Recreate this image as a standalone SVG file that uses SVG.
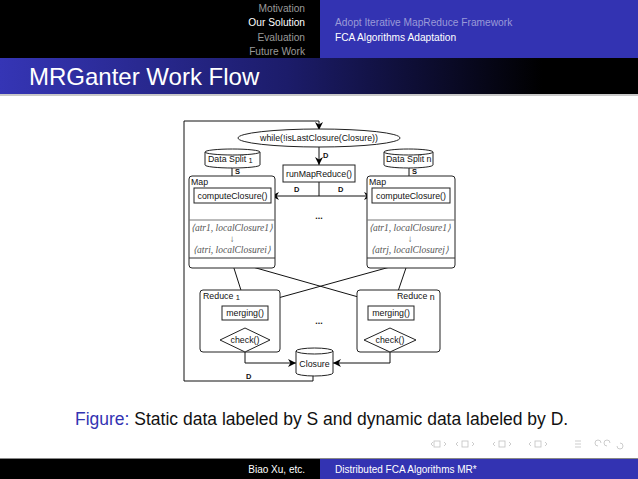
<svg xmlns="http://www.w3.org/2000/svg" width="638" height="479" viewBox="0 0 638 479">
<defs>
<linearGradient id="tg" x1="0" y1="0" x2="1" y2="0">
<stop offset="0" stop-color="#3535b5"/>
<stop offset="0.45" stop-color="#1c1c6a"/>
<stop offset="0.85" stop-color="#000000"/>
</linearGradient>
<marker id="ah" viewBox="0 0 10 10" refX="10" refY="5" markerWidth="8" markerHeight="8" markerUnits="userSpaceOnUse" orient="auto">
<path d="M0,0 L10,5 L0,10 L3,5 Z" fill="#000"/>
</marker>
<style>
.nav{font-family:"Liberation Sans",Arial,sans-serif;font-size:10.2px}
.ft{font-family:"Liberation Sans",Arial,sans-serif;font-size:10px}
.d{font-family:"Liberation Sans",Arial,sans-serif;font-size:8.8px;fill:#111}
.b{font-family:"Liberation Sans",Arial,sans-serif;font-size:7.5px;font-weight:bold;fill:#111}
.m{font-family:"Liberation Serif","Times New Roman",serif;font-size:9.5px;font-style:italic;fill:#555}
.box{fill:#fff;stroke:#222;stroke-width:1}
.ln{fill:none;stroke:#111;stroke-width:1}
.ar{fill:none;stroke:#111;stroke-width:1}
</style>
</defs>
<rect width="638" height="479" fill="#fff"/>
<!-- header -->
<rect x="0" y="0" width="320" height="58" fill="#000"/>
<rect x="320" y="0" width="318" height="58" fill="#3333b2"/>
<g class="nav" text-anchor="end">
<text x="305" y="12" fill="#9a9a9a">Motivation</text>
<text x="305" y="26" fill="#fff">Our Solution</text>
<text x="305" y="41" fill="#9a9a9a">Evaluation</text>
<text x="305" y="55" fill="#9a9a9a">Future Work</text>
</g>
<g class="nav">
<text x="335" y="26" fill="#9a9ad8">Adopt Iterative MapReduce Framework</text>
<text x="335" y="41" fill="#fff">FCA Algorithms Adaptation</text>
</g>
<rect x="0" y="58" width="638" height="36" fill="url(#tg)"/>
<rect x="0" y="94" width="638" height="2" fill="#c8c8c8"/>
<text x="29" y="85" font-family="Liberation Sans,Arial,sans-serif" font-size="24" fill="#fff">MRGanter Work Flow</text>

<!-- connectors -->
<g id="connectors">
<path class="ar" marker-end="url(#ah)" d="M313,375 V381 H184 V121 H319 V130"/>
<text class="b" x="246" y="379">D</text>
<path class="ar" marker-end="url(#ah)" d="M319,147 V165"/>
<text class="b" x="323" y="158">D</text>
<path class="ln" d="M319,182 V196"/>
<path class="ar" marker-end="url(#ah)" d="M319,196 H271"/>
<path class="ar" marker-end="url(#ah)" d="M319,196 H372"/>
<text class="b" x="294" y="192">D</text>
<text class="b" x="338" y="192">D</text>
<path class="ar" marker-end="url(#ah)" d="M232,167 V188"/>
<text class="b" x="235" y="174">S</text>
<path class="ar" marker-end="url(#ah)" d="M409,167 V188"/>
<text class="b" x="412" y="174">S</text>
<path class="ar" marker-end="url(#ah)" d="M232,203 V220"/>
<path class="ar" marker-end="url(#ah)" d="M409,203 V220"/>
<path class="ar" marker-end="url(#ah)" d="M232,262 L246,306"/>
<path class="ar" marker-end="url(#ah)" d="M235,262 L390,306"/>
<path class="ar" marker-end="url(#ah)" d="M408,262 L249,306"/>
<path class="ar" marker-end="url(#ah)" d="M408,262 L393,306"/>
<path class="ar" marker-end="url(#ah)" d="M245,320 V328"/>
<path class="ar" marker-end="url(#ah)" d="M390,320 V328"/>
<path class="ar" marker-end="url(#ah)" d="M245,352 V363 H296"/>
<path class="ar" marker-end="url(#ah)" d="M390,352 V363 H333"/>
</g>

<g id="while">
<ellipse cx="319" cy="138" rx="81" ry="9" class="box"/>
<text class="d" x="319" y="141" text-anchor="middle">while(!isLastClosure(Closure))</text>
</g>
<g id="split1">
<path class="box" d="M205,152 V165 A27.5,3 0 0 0 260,165 V152 Z"/>
<ellipse class="box" cx="232.5" cy="152" rx="27.5" ry="3"/>
<text class="d" x="208" y="162">Data Split <tspan font-size="7.5" dy="1">1</tspan></text>
</g>
<g id="splitn">
<path class="box" d="M384,152 V165 A24.5,3 0 0 0 433,165 V152 Z"/>
<ellipse class="box" cx="408.5" cy="152" rx="24.5" ry="3"/>
<text class="d" x="386" y="162">Data Split n</text>
</g>
<g id="runmr">
<rect class="box" x="283" y="165" width="72" height="17"/>
<text class="d" x="319" y="176.5" text-anchor="middle">runMapReduce()</text>
</g>
<g id="map1">
<rect class="box" x="189" y="176" width="86" height="92" rx="3"/>
<line x1="189" y1="220" x2="275" y2="220" stroke="#777"/>
<line x1="189" y1="258" x2="275" y2="258" stroke="#333"/>
<text class="d" x="191" y="185">Map</text>
<rect class="box" x="194" y="188" width="77" height="15"/>
<text class="d" x="232.5" y="198.8" text-anchor="middle">computeClosure()</text>
<text class="m" x="232" y="230.5" text-anchor="middle">⟨atr1, localClosure1⟩</text>
<text class="m" x="232" y="242" text-anchor="middle" font-style="normal" font-size="8">↓</text>
<text class="m" x="232" y="252.5" text-anchor="middle">⟨atri, localClosurei⟩</text>
</g>
<g id="mapn">
<rect class="box" x="367" y="176" width="88" height="92" rx="3"/>
<line x1="367" y1="220" x2="455" y2="220" stroke="#777"/>
<line x1="367" y1="258" x2="455" y2="258" stroke="#333"/>
<text class="d" x="369" y="185">Map</text>
<rect class="box" x="372" y="188" width="78" height="15"/>
<text class="d" x="411" y="198.8" text-anchor="middle">computeClosure()</text>
<text class="m" x="410" y="230.5" text-anchor="middle">⟨atr1, localClosure1⟩</text>
<text class="m" x="410" y="242" text-anchor="middle" font-style="normal" font-size="8">↓</text>
<text class="m" x="410" y="252.5" text-anchor="middle">⟨atrj, localClosurej⟩</text>
</g>
<text class="d" x="319" y="219" text-anchor="middle" font-weight="bold">...</text>
<g id="reduce1">
<rect class="box" x="200" y="290" width="80" height="62" rx="3"/>
<text class="d" x="203" y="299">Reduce <tspan font-size="7.5" dy="1">1</tspan></text>
<rect class="box" x="222" y="306" width="46" height="14"/>
<text class="d" x="245" y="316.3" text-anchor="middle">merging()</text>
<path class="box" d="M245,328 L270,340 L245,352 L220,340 Z"/>
<text class="d" x="245" y="343.3" text-anchor="middle">check()</text>
</g>
<g id="reducen">
<rect class="box" x="357" y="290" width="83" height="62" rx="3"/>
<text class="d" x="397" y="299">Reduce <tspan dy="1">n</tspan></text>
<rect class="box" x="368" y="306" width="46" height="14"/>
<text class="d" x="391" y="316.3" text-anchor="middle">merging()</text>
<path class="box" d="M390,328 L416,340 L390,352 L364,340 Z"/>
<text class="d" x="390" y="343.3" text-anchor="middle">check()</text>
</g>
<text class="d" x="319" y="324" text-anchor="middle" font-weight="bold">...</text>
<g id="closure">
<path class="box" d="M296,351 V373 A18.5,3 0 0 0 333,373 V351 Z"/>
<ellipse class="box" cx="314.5" cy="351" rx="18.5" ry="3"/>
<text class="d" x="314.5" y="367" text-anchor="middle">Closure</text>
</g>

<!-- caption -->
<text x="75" y="425" font-family="Liberation Sans,Arial,sans-serif" font-size="17.5" fill="#111"><tspan fill="#3333b2">Figure:</tspan> Static data labeled by S and dynamic data labeled by D.</text>

<!-- nav symbols -->
<g fill="none" stroke="#c0c0c0" stroke-width="0.8">
<rect x="434" y="441" width="6" height="6"/>
<rect x="462" y="441" width="6" height="6"/>
<rect x="499" y="441" width="6" height="6"/>
<rect x="535" y="441" width="6" height="6"/>
<path d="M431,444 l2,-2 M431,444 l2,2 M444,442 l2,2 l-2,2"/>
<path d="M456,444 l2,-2 M456,444 l2,2 M472,442 l2,2 l-2,2"/>
<path d="M493,444 l2,-2 M493,444 l2,2 M509,442 l2,2 l-2,2"/>
<path d="M529,444 l2,-2 M529,444 l2,2 M545,442 l2,2 l-2,2"/>
<path d="M575,441 h6 M575,444 h6 M575,447 h6"/>
<path d="M598,446 a3,3 0 1 1 3,-3 M607,446 a3,3 0 1 1 3,-3 M617,446 a3,3 0 1 0 3,-3"/>
</g>

<!-- footer -->
<rect x="0" y="458" width="638" height="1" fill="#888"/>
<rect x="0" y="459" width="320" height="20" fill="#000"/>
<rect x="320" y="459" width="318" height="20" fill="#3333b2"/>
<text class="ft" x="305" y="473" text-anchor="end" fill="#fff">Biao Xu, etc.</text>
<text class="ft" x="335" y="473" fill="#fff">Distributed FCA Algorithms MR*</text>
</svg>
